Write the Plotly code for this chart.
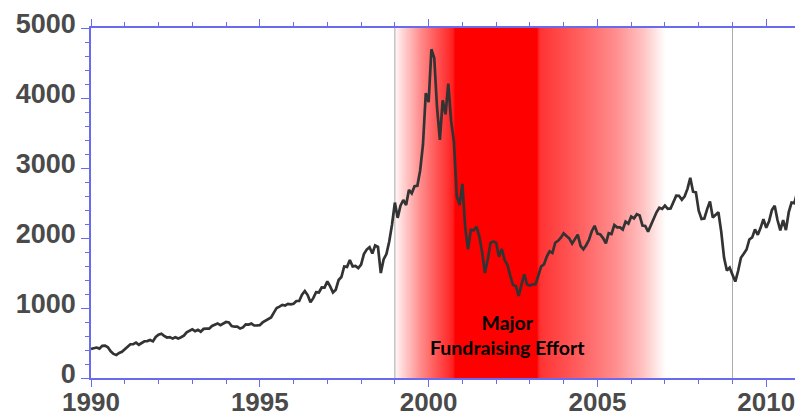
import plotly.graph_objects as go

# NASDAQ Composite, monthly closes Jan 1990 .. Dec 2010
y1990 = [416, 425, 435, 420, 459, 462, 438, 381, 344, 329, 359, 374]
y1991 = [414, 453, 482, 484, 506, 475, 502, 525, 527, 542, 523, 586]
y1992 = [620, 633, 603, 579, 585, 563, 581, 563, 583, 605, 652, 677]
y1993 = [696, 670, 690, 662, 701, 704, 705, 743, 763, 779, 754, 777]
y1994 = [800, 793, 743, 733, 735, 706, 723, 766, 764, 777, 750, 752]
y1995 = [755, 794, 817, 843, 864, 933, 1001, 1020, 1044, 1036, 1059, 1052]
y1996 = [1060, 1100, 1101, 1191, 1243, 1185, 1081, 1141, 1227, 1222, 1293, 1291]
y1997 = [1380, 1309, 1222, 1261, 1400, 1443, 1594, 1587, 1686, 1594, 1601, 1570]
y1998 = [1620, 1771, 1835, 1869, 1779, 1895, 1873, 1499, 1694, 1771, 1950, 2193]
y1999 = [2506, 2288, 2461, 2543, 2471, 2686, 2638, 2739, 2746, 2966, 3336, 4069]
y2000 = [3940, 4697, 4573, 3861, 3401, 3966, 3767, 4206, 3673, 3370, 2598, 2471]
y2001 = [2773, 2152, 1840, 2116, 2110, 2161, 2027, 1805, 1499, 1690, 1931, 1950]
y2002 = [1934, 1731, 1845, 1688, 1616, 1463, 1328, 1315, 1172, 1330, 1479, 1336]
y2003 = [1321, 1337, 1341, 1464, 1596, 1623, 1735, 1810, 1787, 1932, 1960, 2003]
y2004 = [2066, 2030, 1994, 1920, 1987, 2048, 1887, 1838, 1897, 1975, 2097, 2175]
y2005 = [2062, 2052, 1999, 1922, 2068, 2057, 2185, 2152, 2152, 2120, 2233, 2205]
y2006 = [2306, 2281, 2340, 2323, 2179, 2172, 2091, 2184, 2258, 2367, 2432, 2415]
y2007 = [2464, 2416, 2422, 2525, 2605, 2603, 2546, 2596, 2702, 2859, 2661, 2652]
y2008 = [2389, 2271, 2279, 2413, 2523, 2293, 2326, 2368, 2092, 1721, 1536, 1577]
y2009 = [1476, 1377, 1529, 1717, 1774, 1835, 1979, 2009, 2122, 2045, 2145, 2269]
y2010 = [2147, 2238, 2398, 2461, 2257, 2109, 2255, 2114, 2369, 2507, 2498, 2653]

years = list(range(1990, 2011))
yearly = [y1990, y1991, y1992, y1993, y1994, y1995, y1996, y1997, y1998, y1999,
          y2000, y2001, y2002, y2003, y2004, y2005, y2006, y2007, y2008, y2009, y2010]

xs, ys = [], []
for yr, vals in zip(years, yearly):
    for m, v in enumerate(vals):
        xs.append(yr + m / 12.0)
        ys.append(v)

# highlighted period and its gradient (year, red intensity)
band_start, band_end = 1999.0, 2009.0
grad_years = [1999.0, 1999.15, 1999.75, 2000.3, 2000.6, 2000.72, 2000.78, 2003.2, 2003.28, 2004.5, 2005.5, 2006.3, 2007.0, 2009.0]
grad_level = [0.03, 0.12, 0.45, 0.70, 0.82, 0.88, 1.00, 1.00, 0.80, 0.62, 0.45, 0.25, 0.0, 0.0]
label_text = "Major<br>Fundraising Effort"
label_x, label_y = 2002.35, 614

x_ticks = [1990, 1995, 2000, 2005, 2010]
y_ticks = [0, 1000, 2000, 3000, 4000, 5000]
y_min, y_max = 0, 5000


def level_at(x):
    for i in range(len(grad_years) - 1):
        a, b = grad_years[i], grad_years[i + 1]
        if a <= x <= b:
            t = (x - a) / (b - a) if b > a else 0
            return grad_level[i] + t * (grad_level[i + 1] - grad_level[i])
    return 0.0


step = 0.02
n = int(round((band_end - band_start) / step))
hx = [band_start + i * step for i in range(n + 1)]
hz_row = [level_at(x) for x in hx]

fig = go.Figure()
fig.add_trace(go.Heatmap(x=hx, y=[y_min, y_max], z=[hz_row, hz_row],
                         zmin=0, zmax=1, zsmooth="best",
                         colorscale=[[0, "rgb(255,255,255)"], [1, "rgb(255,0,0)"]],
                         showscale=False, hoverinfo="skip"))
for xv in (band_start, band_end):
    fig.add_trace(go.Scatter(x=[xv, xv], y=[y_min, y_max], mode="lines",
                             line=dict(color="#aaaaaa", width=1), hoverinfo="skip"))
fig.add_trace(go.Scatter(x=xs, y=ys, mode="lines",
                         line=dict(color="#333333", width=2.7), hoverinfo="skip"))

axis_color = "#6a6aee"
y_tick_font = dict(family="Liberation Sans, Arial, sans-serif", size=27, color="#4a4a4a", weight="bold")
x_tick_font = dict(family="Liberation Sans, Arial, sans-serif", size=26, color="#4a4a4a", weight="bold")

# page body has an 8px margin: figure is sized/offset to compensate
fig.update_layout(
    width=795, height=410,
    margin=dict(l=83, r=3, t=20, b=40),
    paper_bgcolor="white", plot_bgcolor="white",
    showlegend=False,
    annotations=[dict(x=label_x, y=label_y, xref="x", yref="y", text=label_text,
                      showarrow=False, xanchor="center", yanchor="middle",
                      font=dict(family="Lato, Open Sans, sans-serif", size=19.5,
                                color="black", weight="bold"))],
    xaxis=dict(range=[1990, 2011], tickvals=x_ticks, ticktext=[str(v) for v in x_ticks],
               showgrid=False, zeroline=False, showline=True, linecolor=axis_color,
               linewidth=1.5, mirror="ticks", ticks="outside", ticklen=7, tickwidth=1,
               tickcolor=axis_color, tickfont=x_tick_font, automargin=False,
               ticklabelstandoff=-7,
               minor=dict(dtick=1, tick0=1990, ticks="outside", ticklen=4,
                          tickcolor=axis_color, tickwidth=1, showgrid=False)),
    yaxis=dict(range=[y_min, y_max], tickvals=y_ticks, showgrid=False, zeroline=False,
               showline=True, linecolor=axis_color, linewidth=1.5, mirror="ticks",
               ticks="outside", ticklen=8, tickwidth=1, tickcolor=axis_color,
               tickfont=y_tick_font, automargin=False, ticklabelstandoff=0,
               ticklabelshift=-4,
               minor=dict(dtick=200, tick0=0, ticks="outside", ticklen=4,
                          tickcolor=axis_color, tickwidth=1, showgrid=False)),
)

fig.write_html("out.html")
